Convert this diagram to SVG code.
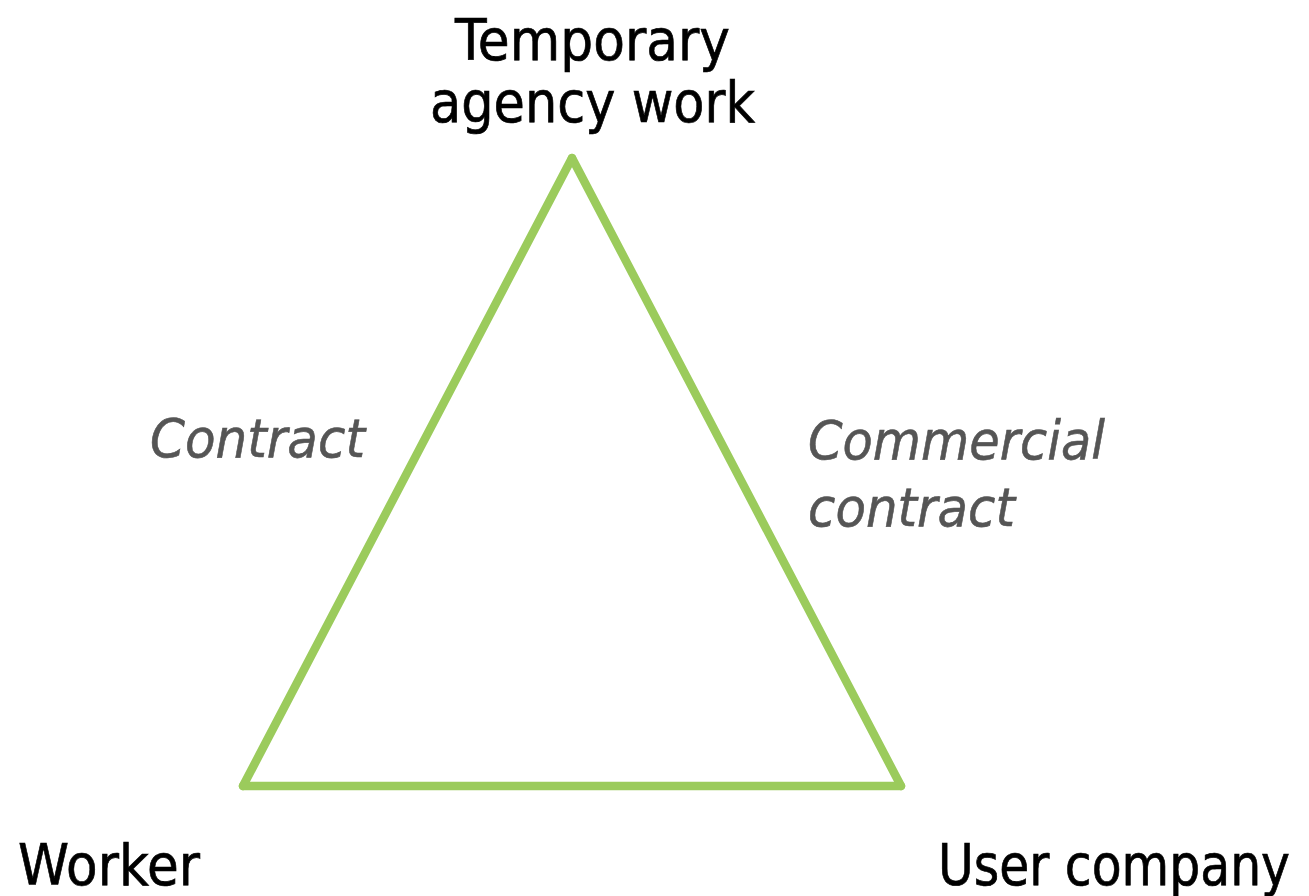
<svg xmlns="http://www.w3.org/2000/svg" width="1309" height="896" viewBox="0 0 1309 896">
  <style>
    .node { font-family: "DejaVu Sans", Verdana, sans-serif; font-size: 57px; fill: #000000; stroke: #000000; stroke-width: 0.7; }
    .edge-label { font-family: "DejaVu Sans", Verdana, sans-serif; font-size: 53px; font-style: italic; fill: #555555; stroke: #555555; stroke-width: 0.6; }
    .edge { fill: none; stroke: #9bcb5c; stroke-width: 8.5; stroke-linejoin: round; stroke-linecap: round; }
  </style>
  <rect width="1309" height="896" fill="#ffffff"/>

  <!-- relationship triangle -->
  <g id="connectors">
    <line class="edge" x1="572" y1="158" x2="243" y2="786"/>
    <line class="edge" x1="572" y1="158" x2="901" y2="786"/>
    <line class="edge" x1="243" y1="786" x2="901" y2="786"/>
    <text class="edge-label" x="150" y="457" textLength="215" lengthAdjust="spacingAndGlyphs">Contract</text>
    <text class="edge-label" x="808" y="459" textLength="297" lengthAdjust="spacingAndGlyphs">Commercial</text>
    <text class="edge-label" x="808" y="526" textLength="207" lengthAdjust="spacingAndGlyphs">contract</text>
  </g>

  <g id="agency">
    <text class="node" x="455" y="60" textLength="275" lengthAdjust="spacingAndGlyphs">Temporary</text>
    <text class="node" x="430" y="122" textLength="325" lengthAdjust="spacingAndGlyphs">agency work</text>
  </g>

  <g id="worker">
    <text class="node" x="18" y="885" textLength="182" lengthAdjust="spacingAndGlyphs">Worker</text>
  </g>

  <g id="user-company">
    <text class="node" x="938" y="885" textLength="352" lengthAdjust="spacingAndGlyphs">User company</text>
  </g>
</svg>
